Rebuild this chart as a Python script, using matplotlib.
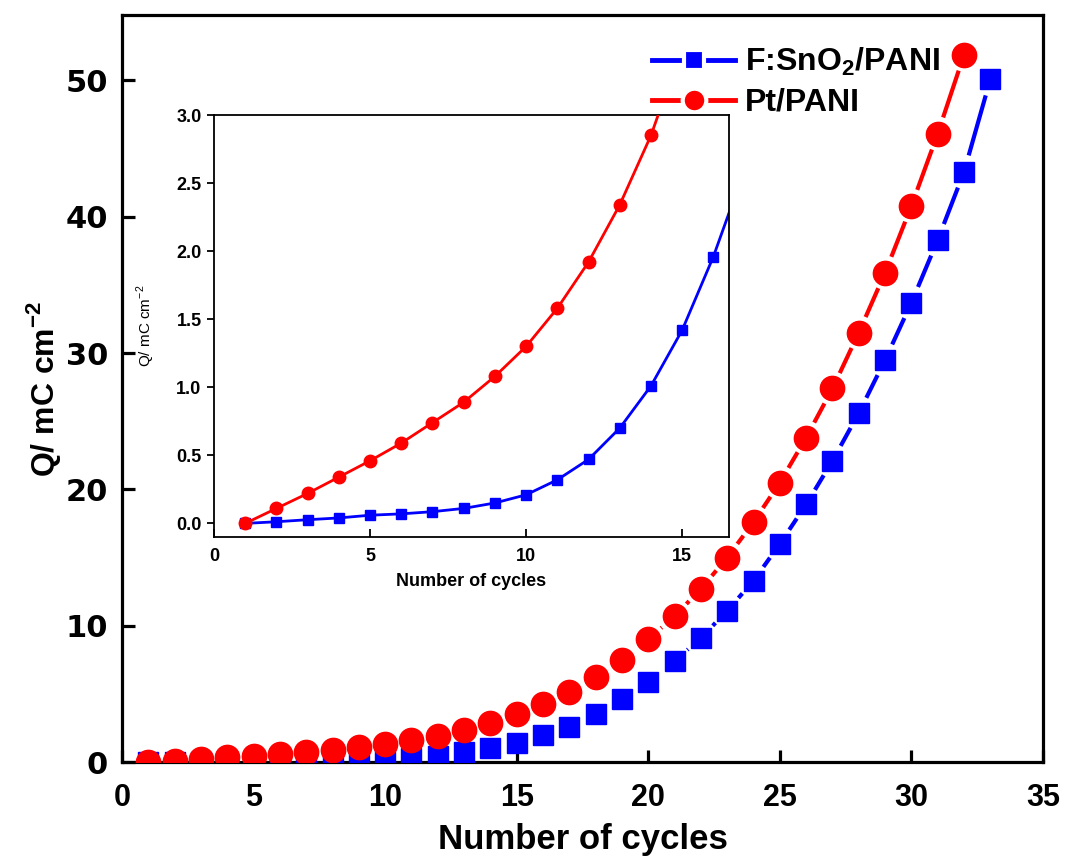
import numpy as np
import matplotlib
matplotlib.use("Agg")
import matplotlib.pyplot as plt
from matplotlib.lines import Line2D

# ---------------- data ----------------
cycles_pt = list(range(1, 33))
q_pt = [0.0, 0.11, 0.22, 0.34, 0.46, 0.59, 0.74, 0.89, 1.08, 1.30, 1.58, 1.92,
        2.34, 2.85, 3.5, 4.25, 5.1, 6.2, 7.5, 9.0, 10.7, 12.7, 15.0, 17.6,
        20.5, 23.8, 27.4, 31.5, 35.9, 40.8, 46.1, 51.9]
cycles_fto = list(range(1, 34))
q_fto = [0.0, 0.012, 0.027, 0.04, 0.06, 0.07, 0.086, 0.11, 0.15, 0.21, 0.32,
         0.47, 0.70, 1.01, 1.42, 1.96, 2.6, 3.5, 4.6, 5.9, 7.4, 9.1, 11.1,
         13.3, 16.0, 18.9, 22.1, 25.6, 29.5, 33.7, 38.3, 43.3, 50.1]
label_fto = "F:SnO$_\\mathbf{2}$/PANI"
label_pt = "Pt/PANI"
main_xticks = [0, 5, 10, 15, 20, 25, 30, 35]
main_yticks = [0, 10, 20, 30, 40, 50]
inset_xticks = [0, 5, 10, 15]
inset_yticks = [0.0, 0.5, 1.0, 1.5, 2.0, 2.5, 3.0]

BLUE = "#0000ff"
RED = "#ff0000"
ARIAL = ["Liberation Sans", "DejaVu Sans"]

plt.rcParams["font.family"] = ARIAL
plt.rcParams["mathtext.fontset"] = "custom"
plt.rcParams["mathtext.rm"] = "Liberation Sans"
plt.rcParams["mathtext.bf"] = "Liberation Sans:bold"

fig = plt.figure(figsize=(10.7, 8.6), dpi=100)
ax = fig.add_axes([122 / 1070, 1 - 762 / 860, (1043 - 122) / 1070, (762 - 15) / 860])
ax.set_xlim(0, 35)
ax.set_ylim(0, 54.8)


def gapped(axis, xs, ys, color, gap_px, lw, z):
    pts = axis.transData.transform(np.column_stack([xs, ys]))
    inv = axis.transData.inverted()
    segx, segy = [], []
    for p0, p1 in zip(pts[:-1], pts[1:]):
        d = p1 - p0
        L = np.hypot(*d)
        if L <= 2 * gap_px:
            continue
        u = d / L
        a = inv.transform(p0 + u * gap_px)
        b = inv.transform(p1 - u * gap_px)
        segx += [a[0], b[0], np.nan]
        segy += [a[1], b[1], np.nan]
    axis.plot(segx, segy, color=color, lw=lw, solid_capstyle="butt", zorder=z)


gapped(ax, cycles_fto, q_fto, BLUE, 17, 3.0, 2)
ax.plot(cycles_fto, q_fto, ls="none", marker="s", ms=14.5, color=BLUE, mec=BLUE, zorder=3)
gapped(ax, cycles_pt, q_pt, RED, 17, 3.0, 4)
ax.plot(cycles_pt, q_pt, ls="none", marker="o", ms=17.5, color=RED, mec=RED, zorder=5)

for s in ax.spines.values():
    s.set_linewidth(2.3)
ax.set_xticks(main_xticks)
ax.set_yticks(main_yticks)
ax.tick_params(direction="in", length=9, width=2.3, top=False, right=False)
ax.tick_params(axis="y", pad=10)
ax.tick_params(axis="x", pad=15)
for t in ax.get_yticklabels():
    t.set_fontfamily("DejaVu Sans")
    t.set_fontweight("bold")
    t.set_fontsize(22)
for t in ax.get_xticklabels():
    t.set_fontweight("bold")
    t.set_fontsize(22)
ax.set_xlabel("Number of cycles", fontsize=25, fontweight="bold", labelpad=7)
ax.set_ylabel("Q/ mC cm$^{\\mathbf{-2}}$", fontsize=23, fontweight="bold", labelpad=2)

# legend
h_fto = Line2D([], [], color=BLUE, lw=3.5, marker="s", ms=14.5, mfc=BLUE, mec="white", mew=3)
h_pt = Line2D([], [], color=RED, lw=3.5, marker="o", ms=17, mfc=RED, mec="white", mew=3)
fig.legend([h_fto, h_pt], [label_fto, label_pt], loc="upper left",
           bbox_to_anchor=(636 / 1070, 1 - 30 / 860), frameon=False,
           prop={"family": ARIAL, "weight": "bold", "size": 23},
           handlelength=2.6, handletextpad=0.3, labelspacing=0.3, borderpad=0)

# inset
ins = fig.add_axes([214 / 1070, 1 - 537 / 860, (729 - 214) / 1070, (537 - 115) / 860])
ins.set_zorder(10)
ins.set_xlim(0, 16.5)
ins.set_ylim(-0.1, 3.0)
ins.plot(cycles_fto, q_fto, color=BLUE, lw=2.0, marker="s", ms=7.5, zorder=2)
ins.plot(cycles_pt, q_pt, color=RED, lw=2.0, marker="o", ms=9, zorder=3)
for s in ins.spines.values():
    s.set_linewidth(1.3)
ins.set_xticks(inset_xticks)
ins.set_yticks(inset_yticks)
ins.set_yticklabels([f"{v:.1f}" for v in inset_yticks])
ins.tick_params(axis="x", direction="in", length=6, width=1.3, labelsize=13, pad=8)
ins.tick_params(axis="y", direction="out", length=5, width=1.3, labelsize=13, pad=4)
ins.tick_params(top=False, right=False)
for t in ins.get_xticklabels() + ins.get_yticklabels():
    t.set_fontweight("bold")
ins.set_xlabel("Number of cycles", fontsize=13, fontweight="bold", labelpad=6)
ins.set_ylabel("Q/ mC cm$^{-2}$", fontsize=11, labelpad=14)

fig.savefig("out.png", dpi=100, facecolor="white")
